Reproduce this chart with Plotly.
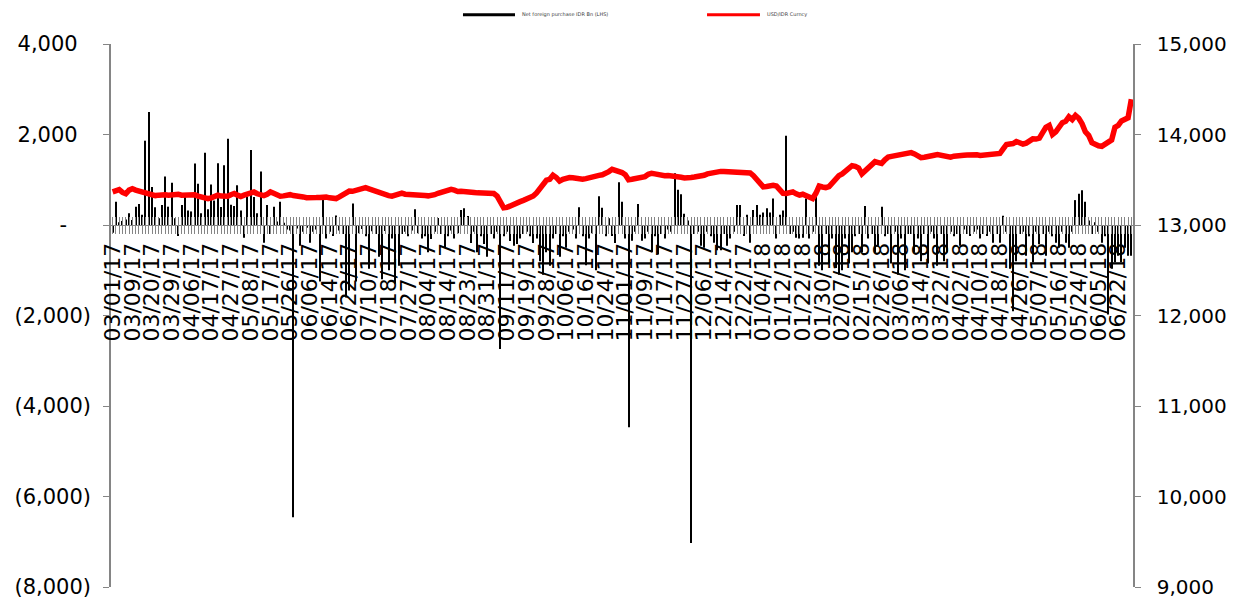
import plotly.graph_objects as go

# ---- data ----
tick_labels = [
    "03/01/17", "03/09/17", "03/20/17", "03/29/17", "04/06/17", "04/17/17", "04/27/17",
    "05/08/17", "05/17/17", "05/26/17", "06/06/17", "06/14/17", "06/22/17", "07/10/17",
    "07/18/17", "07/27/17", "08/04/17", "08/14/17", "08/23/17", "08/31/17", "09/11/17",
    "09/19/17", "09/28/17", "10/06/17", "10/16/17", "10/24/17", "11/01/17", "11/09/17",
    "11/17/17", "11/27/17", "12/06/17", "12/14/17", "12/22/17", "01/04/18", "01/12/18",
    "01/22/18", "01/30/18", "02/07/18", "02/15/18", "02/26/18", "03/06/18", "03/14/18",
    "03/22/18", "04/02/18", "04/10/18", "04/18/18", "04/26/18", "05/07/18", "05/16/18",
    "05/24/18", "06/05/18", "06/22/18",
]
label_step = 6  # one axis label every 6 trading days

net_foreign = [
    -170, 513, 60, 90, 123, 260, 110, 405, 463, 225,
    1863, 2500, 838, 390, 150, 441, 1070, 405, 931, 150,
    -245, 441, 622, 318, 300, 1358, 910, 260, 1596, 350,
    897, 540, 1365, 400, 1321, 1906, 450, 420, 878, 320,
    -280, 622, 1655, 620, 260, 1185, -390, 441, -200, 405,
    80, 513, 50, -100, -120, -6460, -80, -460, -150, -60,
    -390, -150, -100, -1250, 550, -300, -150, -245, 210, -120,
    -200, -1600, -1450, 477, -1250, -180, -90, -250, -966, -140,
    -200, -700, -1200, -130, -1000, -300, -1300, -900, -200, -150,
    -250, -120, 347, -180, -300, -250, -600, -310, -150, 152,
    -200, -500, -250, -120, -300, -180, 333, 368, 200, -400,
    -150, -600, -250, -420, -700, -200, -300, -150, -2740, -250,
    -150, -353, -460, -420, -300, -200, -150, -250, -400, -300,
    -800, -1100, -600, -900, -300, -200, -700, -250, -500, -150,
    -100, -300, 390, -250, -890, -300, -180, -1000, 636, 383,
    -250, 150, -245, -400, 946, 513, -300, -4470, -350, -150,
    463, -350, -300, -150, -600, -250, -650, -200, -300, -100,
    -150, 1141, 780, 680, 247, 100, -7025, -200, -150, -461,
    -500, -150, -250, -390, -560, -560, -200, -461, -300, -150,
    441, 441, -245, 225, -390, 333, 441, 225, 275, 368,
    275, 585, -300, 225, 318, 1971, -200, -150, -281, -300,
    -280, 585, -300, -150, 693, -900, -1000, -200, -850, -300,
    -950, -1100, -1000, -300, -850, -600, -250, -200, -606, 420,
    -300, -200, -606, -461, 405, -250, -200, -850, -150, -1100,
    -300, -1000, -200, -200, -606, -300, -800, -200, -850, -150,
    -300, -900, -200, -800, -606, -150, -250, -200, -461, -100,
    -200, -245, -150, -100, -300, -200, -245, -150, -390, -200,
    -390, 203, -150, -966, -1906, -800, -200, -150, -678, -250,
    -823, -150, -425, -200, -678, -150, -250, -390, -500, -150,
    -390, -500, -150, 550, 693, 766, 513, 100, -200, 60,
    -150, -390, -250, -1978, -966, -823, -678, -823, -500, -678,
    -678,
]

usd_idr = [
    13365, 13380, 13390, 13360, 13345, 13385, 13400, 13385, 13375, 13370,
    13360, 13345, 13330, 13325, 13330, 13340, 13335, 13330, 13338, 13335,
    13340, 13330, 13335, 13340, 13338, 13335, 13320, 13305, 13295, 13290,
    13300, 13310, 13330, 13320, 13312, 13318, 13335, 13348, 13330, 13315,
    13330, 13345, 13355, 13365, 13345, 13335, 13325, 13340, 13365, 13350,
    13325, 13318, 13322, 13328, 13335, 13325, 13315, 13318, 13310, 13302,
    13298, 13300, 13303, 13305, 13310, 13308, 13300, 13296, 13292, 13310,
    13335, 13360, 13375, 13372, 13385, 13400, 13410, 13412, 13400, 13385,
    13370, 13355, 13342, 13335, 13325, 13318, 13330, 13345, 13352, 13340,
    13335, 13345, 13330, 13325, 13328, 13325, 13322, 13325, 13335, 13350,
    13362, 13370, 13380, 13394, 13385, 13370, 13372, 13365, 13360, 13355,
    13358, 13355, 13352, 13356, 13355, 13350, 13348, 13320, 13265, 13190,
    13195, 13215, 13235, 13250, 13258, 13272, 13285, 13300, 13320, 13355,
    13395, 13450, 13495, 13505, 13550, 13525, 13485, 13505, 13520, 13525,
    13522, 13515, 13510, 13505, 13512, 13525, 13528, 13540, 13548, 13555,
    13568, 13590, 13615, 13605, 13590, 13580, 13555, 13500, 13505, 13512,
    13515, 13518, 13535, 13560, 13572, 13565, 13555, 13548, 13545, 13546,
    13544, 13545, 13538, 13528, 13520, 13515, 13525, 13530, 13532, 13535,
    13550, 13565, 13572, 13585, 13590, 13592, 13590, 13588, 13585, 13585,
    13583, 13588, 13582, 13580, 13575, 13545, 13500, 13460, 13422, 13425,
    13432, 13438, 13430, 13395, 13350, 13348, 13360, 13366, 13345, 13330,
    13340, 13322, 13305, 13292, 13350, 13430, 13420, 13412, 13425, 13470,
    13520, 13545, 13565, 13600, 13630, 13655, 13648, 13630, 13565, 13600,
    13620, 13665, 13700, 13690, 13680, 13720, 13750, 13758, 13765, 13772,
    13780, 13792, 13805, 13800, 13785, 13760, 13745, 13748, 13760, 13765,
    13770, 13778, 13770, 13755, 13745, 13750, 13760, 13768, 13772, 13770,
    13774, 13778, 13780, 13775, 13768, 13772, 13778, 13770, 13780, 13782,
    13790, 13840, 13890, 13895, 13900, 13922, 13910, 13895, 13905, 13935,
    13952, 13950, 13960, 14020, 14080, 14100, 14000, 14030, 14070, 14130,
    14145, 14195, 14165, 14210, 14180, 14120, 14030, 13990, 13910, 13885,
    13875, 13870, 13890, 13925, 13940, 14080, 14100, 14150, 14175, 14185,
    14390,
]

trading_day = list(range(len(usd_idr)))

left_ticks = [-8000, -6000, -4000, -2000, 0, 2000, 4000]
left_text = ["(8,000)", "(6,000)", "(4,000)", "(2,000)", "-\u2007\u2002",
             "2,000\u2007", "4,000\u2007"]
right_ticks = [9000, 10000, 11000, 12000, 13000, 14000, 15000]

FONT = "DejaVu Sans"
GREY = "#858585"
n = len(trading_day)
xr = [-0.5, n - 0.5]

fig = go.Figure()
fig.add_trace(go.Bar(
    x=trading_day, y=net_foreign, width=0.32,
    marker=dict(color="black", line=dict(width=0)),
    name="Net foreign purchase IDR Bn (LHS)", showlegend=False,
))
fig.add_trace(go.Scatter(
    x=trading_day, y=usd_idr, mode="lines", yaxis="y2",
    line=dict(color="#FF0000", width=5.5),
    name="USD/IDR Curncy", showlegend=False,
))

fig.update_layout(
    width=1249, height=611,
    margin=dict(l=111, r=116, t=44, b=13),
    paper_bgcolor="white", plot_bgcolor="white",
    font=dict(family=FONT, color="black"),
    xaxis=dict(
        range=xr, anchor="free", position=2/3,
        tickmode="array",
        tickvals=trading_day[::label_step],
        ticktext=tick_labels,
        tickangle=-90,
        ticks="outside", ticklen=8, tickcolor="rgba(0,0,0,0)",
        tickfont=dict(size=22, family=FONT, color="black"),
        showgrid=False, zeroline=False, showline=False,
    ),
    xaxis2=dict(
        range=xr, overlaying="x", anchor="free", position=2/3,
        tickmode="linear", tick0=0, dtick=1,
        ticks="outside", ticklen=8, tickcolor=GREY, tickwidth=1.3,
        showticklabels=False, showgrid=False, zeroline=False,
        showline=True, linecolor=GREY, linewidth=1,
    ),
    xaxis3=dict(
        range=xr, overlaying="x", anchor="free", position=2/3,
        tickmode="linear", tick0=0, dtick=1,
        ticks="inside", ticklen=8, tickcolor=GREY, tickwidth=1.3,
        showticklabels=False, showgrid=False, zeroline=False,
    ),
    yaxis=dict(
        range=[-8000, 4000], tickmode="array",
        tickvals=left_ticks, ticktext=left_text,
        ticks="outside", ticklen=6, tickcolor=GREY,
        ticklabelstandoff=8,
        showline=True, linecolor=GREY, linewidth=1.5,
        showgrid=False, zeroline=False,
        tickfont=dict(size=21, family=FONT, color="black"),
    ),
    yaxis2=dict(
        range=[9000, 15000], overlaying="y", side="right", anchor="x",
        tickmode="array", tickvals=right_ticks,
        ticktext=[f"{v:,}" for v in right_ticks],
        ticks="outside", ticklen=6, tickcolor=GREY,
        ticklabelstandoff=12,
        showline=True, linecolor=GREY, linewidth=1.5,
        showgrid=False, zeroline=False,
        tickfont=dict(size=20, family=FONT, color="black"),
    ),
    showlegend=False,
)

# helper axes that carry the per-category tick marks (crossing the zero line)
fig.add_trace(go.Scatter(x=[None], y=[None], xaxis="x2", showlegend=False, hoverinfo="skip"))
fig.add_trace(go.Scatter(x=[None], y=[None], xaxis="x3", showlegend=False, hoverinfo="skip"))

# legend drawn at the top, as in the original
ly = 1.054
fig.add_shape(type="line", xref="paper", yref="paper", x0=0.3444, x1=0.3953, y0=ly, y1=ly,
              line=dict(color="black", width=3))
fig.add_annotation(xref="paper", yref="paper", x=0.4002, y=ly, xanchor="left", yanchor="middle",
                   text="Net foreign purchase IDR Bn (LHS)", showarrow=False,
                   font=dict(size=5, family=FONT, color="#404040"))
fig.add_shape(type="line", xref="paper", yref="paper", x0=0.5832, x1=0.6350, y0=ly, y1=ly,
              line=dict(color="#FF0000", width=3))
fig.add_annotation(xref="paper", yref="paper", x=0.6399, y=ly, xanchor="left", yanchor="middle",
                   text="USD/IDR Curncy", showarrow=False,
                   font=dict(size=5, family=FONT, color="#404040"))

fig.write_html(
    "out.html",
    config={"displayModeBar": False},
    post_script="document.body.style.margin='0';document.body.style.padding='0';",
)
